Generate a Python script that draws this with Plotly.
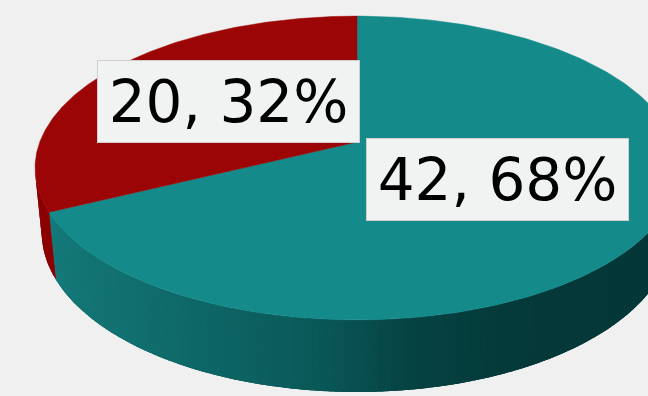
import numpy as np
import plotly.graph_objects as go

# ---- data -------------------------------------------------------------
categories = ["Group A", "Group B"]
values = [42, 20]
top_colors = ["#148a8a", "#9c0505"]
# side shading stops (x-component of the outward normal: -1 = left, +1 = right)
side_stops = {
    "Group A": [(-1.0, (23, 125, 125)), (-0.5, (15, 106, 106)), (-0.1, (10, 88, 88)),
                (0.15, (6, 66, 66)), (0.4, (5, 58, 58)), (1.0, (4, 54, 54))],
    "Group B": [(-1.0, (142, 2, 2)), (0.0, (110, 0, 0)), (1.0, (80, 0, 0))],
}
label_pos = {"Group A": (497.5, 179.0), "Group B": (228.5, 101.5)}

# ---- 3-D view of the disc ----------------------------------------------
TILT = np.radians(27.7)   # elevation of the camera
DIST = 5.17               # camera distance, in pie radii
FOCAL = 1640.0            # pixels
DEPTH = 0.231             # disc thickness, in pie radii
CX, CY = 357.0, 142.0     # screen position of the pie centre
W, H = 648, 396

s_t, c_t = np.sin(TILT), np.cos(TILT)


def project(x, y, z):
    xc = x
    yc = y * s_t + z * c_t
    zc = y * c_t - z * s_t + DIST
    return CX + FOCAL * xc / zc, CY - FOCAL * yc / zc


def rim(theta, z):
    # theta measured clockwise from the far (12 o'clock) point
    return project(np.sin(theta), np.cos(theta), z)


def shade(stops, v):
    xs = [p[0] for p in stops]
    rgb = [np.interp(v, xs, [p[1][k] for p in stops]) for k in range(3)]
    return "rgb({:.0f},{:.0f},{:.0f})".format(*rgb)


def wall(th):
    tx, ty = rim(th, 0.0)
    bx, by = rim(th[::-1], -DEPTH)
    return np.concatenate([tx, bx]), np.concatenate([ty, by])


total = sum(values)
fractions = [v / total for v in values]
starts = np.cumsum([0.0] + fractions[:-1]) * 2 * np.pi
ends = starts + np.array(fractions) * 2 * np.pi

# the side wall faces the camera where cos(theta) < -1/(DIST*cos(TILT))
vis_lo = np.arccos(-1.0 / (DIST * c_t))
vis_hi = 2 * np.pi - vis_lo

fig = go.Figure()

# side walls: a solid underlay, then overlapping shaded strips
for cat, a0, a1 in zip(categories, starts, ends):
    lo, hi = max(a0, vis_lo), min(a1, vis_hi)
    if hi <= lo:
        continue
    base = shade(side_stops[cat], np.sin(0.5 * (lo + hi)))
    wx, wy = wall(np.linspace(lo, hi, 120))
    fig.add_trace(go.Scatter(
        x=wx, y=wy, mode="lines", fill="toself", fillcolor=base,
        line=dict(color=base, width=0), hoverinfo="skip", showlegend=False))
    n = max(2, int(np.degrees(hi - lo) / 1.0))
    step = (hi - lo) / n
    for i in range(n):
        e0 = lo + i * step
        e1 = min(hi, e0 + step * 1.8)
        col = shade(side_stops[cat], np.sin(e0 + 0.5 * step))
        wx, wy = wall(np.linspace(e0, e1, 4))
        fig.add_trace(go.Scatter(
            x=wx, y=wy, mode="lines", fill="toself", fillcolor=col,
            line=dict(color=col, width=0), hoverinfo="skip", showlegend=False))

# top faces
for cat, a0, a1, col in zip(categories, starts, ends, top_colors):
    th = np.linspace(a0, a1, 240)
    ax_, ay_ = rim(th, 0.0)
    ox, oy = project(0.0, 0.0, 0.0)
    fig.add_trace(go.Scatter(
        x=np.concatenate([[ox], ax_, [ox]]), y=np.concatenate([[oy], ay_, [oy]]),
        mode="lines", fill="toself", fillcolor=col,
        line=dict(color=col, width=0.5), name=cat, hoverinfo="skip",
        showlegend=False))

# data labels
for cat, v, f in zip(categories, values, fractions):
    lx, ly = label_pos[cat]
    fig.add_annotation(
        x=lx, y=ly, xref="x", yref="y", showarrow=False,
        text=f"{v}, {round(f * 100)}%",
        font=dict(family="DejaVu Sans", size=58, color="#000000"),
        width=261, height=81, align="center", valign="middle",
        bgcolor="#f1f3f3", bordercolor="#cfcfcf", borderwidth=1, borderpad=0)

fig.update_layout(
    width=W, height=H, margin=dict(l=0, r=0, t=0, b=0),
    paper_bgcolor="#f0f0f0", plot_bgcolor="#f0f0f0",
    xaxis=dict(range=[0, W], visible=False, fixedrange=True),
    yaxis=dict(range=[H, 0], visible=False, fixedrange=True),
)

fig.write_html("out.html")
